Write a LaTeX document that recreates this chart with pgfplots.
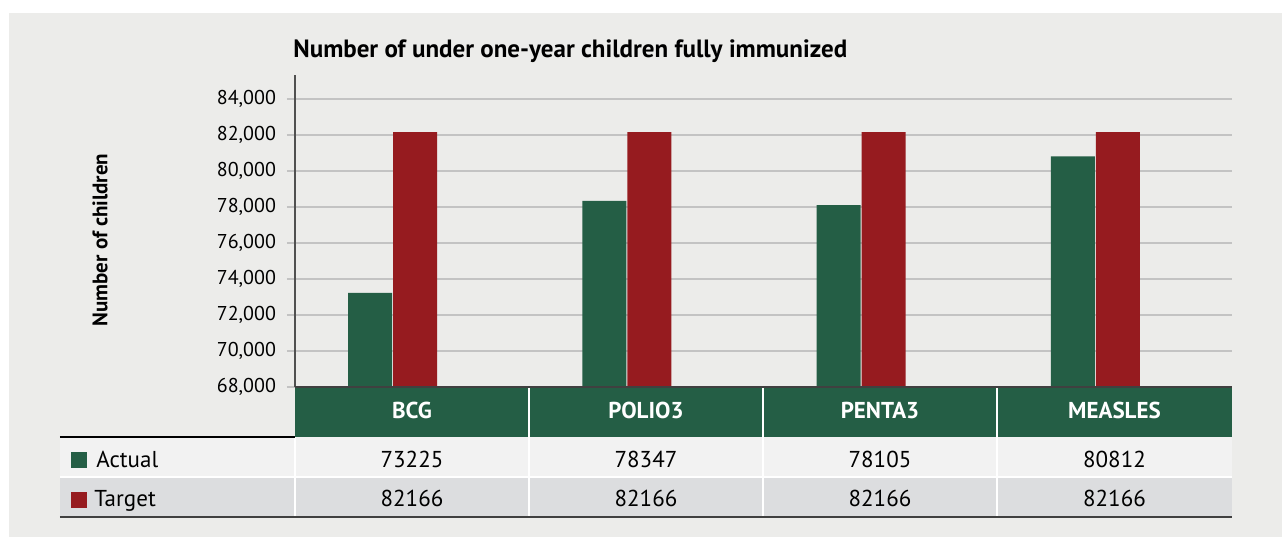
\documentclass[border=0pt]{standalone}
\usepackage{fontspec}
\setmainfont{PT Sans}
\usepackage{pgfplots}
\pgfplotsset{compat=1.18}
\definecolor{bgc}{RGB}{236,236,234}
\definecolor{actgreen}{RGB}{36,94,69}
\definecolor{tgtred}{RGB}{150,27,31}
\definecolor{rowa}{RGB}{242,242,242}
\definecolor{rowb}{RGB}{220,221,223}
\definecolor{gridc}{RGB}{195,195,195}
\definecolor{axc}{RGB}{80,80,80}

\begin{document}
\begin{tikzpicture}[px/.style={x=0.5pt,y=-0.5pt,shift={(-295,-387)}}]
% background, in pixel units of the reference (axis lower left = 295,387)
\begin{scope}[px]
  \fill[white] (0,0) rectangle (1282,537);
  \fill[bgc] (9,13) rectangle (1282,537);
\end{scope}

\begin{axis}[
  at={(0,0)}, anchor=south west, scale only axis,
  width=468.5pt, height=156pt,
  xmin=-0.5, xmax=3.5, ymin=68000, ymax=85333,
  ybar=0pt, bar width=22pt,
  axis lines*=left,
  x axis line style={black, line width=1pt},
  y axis line style={axc, line width=1pt},
  xtick=\empty,
  ytick={68000,70000,...,84000},
  ymajorgrids, grid style={gridc, line width=1pt},
  tick align=outside, major tick length=4pt,
  ytick style={gridc, line width=1pt},
  yticklabel style={font=\fontsize{10}{12}\selectfont, black, xshift=-2pt},
  /pgf/number format/1000 sep={,},
  /pgf/number format/assume math mode=true,
  scaled y ticks=false,
]
\addplot[fill=actgreen, draw=none, bar shift=-21pt] coordinates {
  (0,73225) (1,78347) (2,78105) (3,80812)
};
\addplot[fill=tgtred, draw=none, bar shift=1.5pt] coordinates {
  (0,82166) (1,82166) (2,82166) (3,82166)
};
\end{axis}

% data table under the axis
\begin{scope}[px]
  \fill[actgreen] (295,388) rectangle (1232,437);
  \fill[rowa] (60,437) rectangle (1232,477);
  \fill[rowb] (60,477) rectangle (1232,517);
  \draw[white, line width=1pt] (60,477) -- (1232,477);
  \foreach \x in {529,763,997} \draw[white, line width=1pt] (\x,388) -- (\x,517);
  \draw[white, line width=1pt] (295,437) -- (295,517);
  \draw[black, line width=1pt] (60,437) -- (295,437);
  \draw[black!75, line width=1pt] (60,517) -- (1232,517);
  \draw[black!75, line width=1pt] (295,387) -- (1232,387);
  \foreach \x/\t in {412/BCG,646/POLIO3,880/PENTA3,1114.5/MEASLES}
    \node[anchor=base, inner sep=0pt, white, font=\fontsize{11.5}{13}\selectfont\bfseries] at (\x,418) {\t};
  \foreach \x/\a/\b in {412/73225/82166,646/78347/82166,880/78105/82166,1114.5/80812/82166}{
    \node[anchor=base, inner sep=0pt, font=\fontsize{11.5}{13}\selectfont] at (\x,467) {\a};
    \node[anchor=base, inner sep=0pt, font=\fontsize{11.5}{13}\selectfont] at (\x,506.5) {\b};
  }
  \fill[actgreen] (71,452) rectangle (87,468);
  \fill[tgtred] (71,492) rectangle (87,508);
  \node[anchor=base west, font=\fontsize{11.5}{13}\selectfont, inner sep=0pt] at (96,467) {Actual};
  \node[anchor=base west, font=\fontsize{11.5}{13}\selectfont, inner sep=0pt] at (94,506.5) {Target};
  \node[anchor=base west, inner sep=0pt, font=\fontsize{12.5}{14}\selectfont\bfseries] at (293,57) {Number of under one-year children fully immunized};
  \node[rotate=90, font=\fontsize{10.5}{12}\selectfont\bfseries] at (100,240) {Number of children};
\end{scope}
\end{tikzpicture}
\end{document}
